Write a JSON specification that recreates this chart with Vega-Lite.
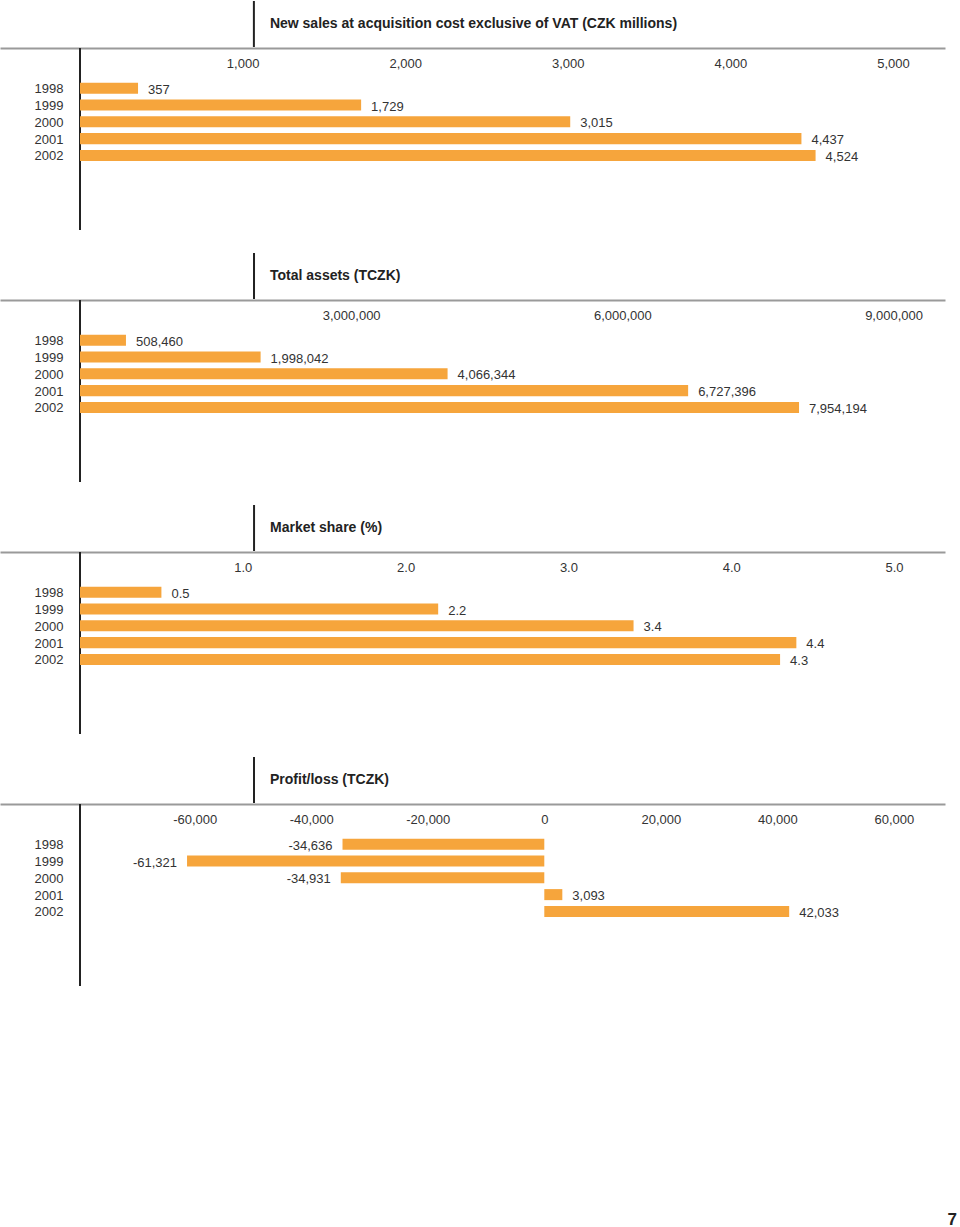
{
  "$schema": "https://vega.github.io/schema/vega-lite/v6.json",
  "padding": {"left": 0, "top": 0, "right": 0, "bottom": 0},
  "background": "white",
  "title": {"text": "7", "orient": "bottom", "anchor": "end", "fontSize": 17, "fontWeight": "bold", "color": "#222", "offset": 225, "dx": 12, "font": "Liberation Sans"},
  "datasets": {
    "sales": [{"year": 1998, "value": 357}, {"year": 1999, "value": 1729}, {"year": 2000, "value": 3015}, {"year": 2001, "value": 4437}, {"year": 2002, "value": 4524}],
    "assets": [{"year": 1998, "value": 508460}, {"year": 1999, "value": 1998042}, {"year": 2000, "value": 4066344}, {"year": 2001, "value": 6727396}, {"year": 2002, "value": 7954194}],
    "share": [{"year": 1998, "value": 0.5}, {"year": 1999, "value": 2.2}, {"year": 2000, "value": 3.4}, {"year": 2001, "value": 4.4}, {"year": 2002, "value": 4.3}],
    "profit": [{"year": 1998, "value": -34636}, {"year": 1999, "value": -61321}, {"year": 2000, "value": -34931}, {"year": 2001, "value": 3093}, {"year": 2002, "value": 42033}]
  },
  "vconcat": [
    {
      "spacing": -1,
      "resolve": {"scale": {"x": "independent"}, "axis": {"x": "independent"}},
      "vconcat": [
        {
          "width": 945, "height": 46,
          "data": {"values": [{"title": "New sales at acquisition cost exclusive of VAT (CZK millions)", "line": 1069.5, "pos": 1168}]},
          "layer": [
            {"mark": {"type": "rule", "color": "#222", "strokeWidth": 2}, "encoding": {"x": {"field": "line", "type": "quantitative", "scale": {"domain": [-492, 5320], "nice": false, "zero": false}, "axis": null}}},
            {"mark": {"type": "text", "align": "left", "baseline": "middle", "fontWeight": "bold", "fontSize": 14, "color": "#222"}, "encoding": {"x": {"field": "pos", "type": "quantitative"}, "text": {"field": "title"}}}
          ]
        },
        {
          "width": 945, "height": 182,
          "data": {"name": "sales"},
          "layer": [
            {"data": {"values": [{"base": 0}]}, "mark": {"type": "rule", "color": "#222", "strokeWidth": 2}, "encoding": {"x": {"field": "base", "type": "quantitative"}}},
            {"mark": {"type": "bar", "color": "#F6A53C"}, "encoding": {
              "y": {"field": "year", "type": "ordinal", "scale": {"paddingInner": 0.343, "paddingOuter": 0, "range": [34.7, 112.94]}, "axis": {"orient": "left", "offset": -80, "title": null, "ticks": false, "tickSize": 0, "domain": false, "labelPadding": 17, "labelOffset": 1, "labelFontSize": 13, "labelColor": "#333"}},
              "x": {"field": "value", "type": "quantitative", "scale": {"domain": [-492, 5320], "nice": false, "zero": false}, "axis": {"orient": "top", "values": [1000, 2000, 3000, 4000, 5000], "format": ",d", "title": null, "ticks": false, "tickSize": 0, "grid": false, "domainColor": "#9a9a9a", "domainWidth": 2, "labelPadding": -15, "labelBaseline": "middle", "labelFontSize": 13, "labelColor": "#333"}}, "x2": {"datum": 0}}},
            {"mark": {"type": "text", "align": "left", "baseline": "middle", "dx": 10, "dy": 1.5, "fontSize": 13, "color": "#333"}, "encoding": {"y": {"field": "year", "type": "ordinal"}, "x": {"field": "value", "type": "quantitative"}, "text": {"field": "value", "format": ","}}}
          ]
        }
      ]
    },
    {
      "spacing": -1,
      "resolve": {"scale": {"x": "independent"}, "axis": {"x": "independent"}},
      "vconcat": [
        {
          "width": 945, "height": 46,
          "data": {"values": [{"title": "Total assets (TCZK)", "line": 1925000, "pos": 2102000}]},
          "layer": [
            {"mark": {"type": "rule", "color": "#222", "strokeWidth": 2}, "encoding": {"x": {"field": "line", "type": "quantitative", "scale": {"domain": [-885000, 9569000], "nice": false, "zero": false}, "axis": null}}},
            {"mark": {"type": "text", "align": "left", "baseline": "middle", "fontWeight": "bold", "fontSize": 14, "color": "#222"}, "encoding": {"x": {"field": "pos", "type": "quantitative"}, "text": {"field": "title"}}}
          ]
        },
        {
          "width": 945, "height": 182,
          "data": {"name": "assets"},
          "layer": [
            {"data": {"values": [{"base": 0}]}, "mark": {"type": "rule", "color": "#222", "strokeWidth": 2}, "encoding": {"x": {"field": "base", "type": "quantitative"}}},
            {"mark": {"type": "bar", "color": "#F6A53C"}, "encoding": {
              "y": {"field": "year", "type": "ordinal", "scale": {"paddingInner": 0.343, "paddingOuter": 0, "range": [34.7, 112.94]}, "axis": {"orient": "left", "offset": -80, "title": null, "ticks": false, "tickSize": 0, "domain": false, "labelPadding": 17, "labelOffset": 1, "labelFontSize": 13, "labelColor": "#333"}},
              "x": {"field": "value", "type": "quantitative", "scale": {"domain": [-885000, 9569000], "nice": false, "zero": false}, "axis": {"orient": "top", "values": [3000000, 6000000, 9000000], "format": ",d", "title": null, "ticks": false, "tickSize": 0, "grid": false, "domainColor": "#9a9a9a", "domainWidth": 2, "labelPadding": -15, "labelBaseline": "middle", "labelFontSize": 13, "labelColor": "#333"}}, "x2": {"datum": 0}}},
            {"mark": {"type": "text", "align": "left", "baseline": "middle", "dx": 10, "dy": 1.5, "fontSize": 13, "color": "#333"}, "encoding": {"y": {"field": "year", "type": "ordinal"}, "x": {"field": "value", "type": "quantitative"}, "text": {"field": "value", "format": ","}}}
          ]
        }
      ]
    },
    {
      "spacing": -1,
      "resolve": {"scale": {"x": "independent"}, "axis": {"x": "independent"}},
      "vconcat": [
        {
          "width": 945, "height": 46,
          "data": {"values": [{"title": "Market share (%)", "line": 1.069, "pos": 1.167}]},
          "layer": [
            {"mark": {"type": "rule", "color": "#222", "strokeWidth": 2}, "encoding": {"x": {"field": "line", "type": "quantitative", "scale": {"domain": [-0.4914, 5.313], "nice": false, "zero": false}, "axis": null}}},
            {"mark": {"type": "text", "align": "left", "baseline": "middle", "fontWeight": "bold", "fontSize": 14, "color": "#222"}, "encoding": {"x": {"field": "pos", "type": "quantitative"}, "text": {"field": "title"}}}
          ]
        },
        {
          "width": 945, "height": 182,
          "data": {"name": "share"},
          "layer": [
            {"data": {"values": [{"base": 0}]}, "mark": {"type": "rule", "color": "#222", "strokeWidth": 2}, "encoding": {"x": {"field": "base", "type": "quantitative"}}},
            {"mark": {"type": "bar", "color": "#F6A53C"}, "encoding": {
              "y": {"field": "year", "type": "ordinal", "scale": {"paddingInner": 0.343, "paddingOuter": 0, "range": [34.7, 112.94]}, "axis": {"orient": "left", "offset": -80, "title": null, "ticks": false, "tickSize": 0, "domain": false, "labelPadding": 17, "labelOffset": 1, "labelFontSize": 13, "labelColor": "#333"}},
              "x": {"field": "value", "type": "quantitative", "scale": {"domain": [-0.4914, 5.313], "nice": false, "zero": false}, "axis": {"orient": "top", "values": [1, 2, 3, 4, 5], "format": ".1f", "title": null, "ticks": false, "tickSize": 0, "grid": false, "domainColor": "#9a9a9a", "domainWidth": 2, "labelPadding": -15, "labelBaseline": "middle", "labelFontSize": 13, "labelColor": "#333"}}, "x2": {"datum": 0}}},
            {"mark": {"type": "text", "align": "left", "baseline": "middle", "dx": 10, "dy": 1.5, "fontSize": 13, "color": "#333"}, "encoding": {"y": {"field": "year", "type": "ordinal"}, "x": {"field": "value", "type": "quantitative"}, "text": {"field": "value", "format": ".1f"}}}
          ]
        }
      ]
    },
    {
      "spacing": -1,
      "resolve": {"scale": {"x": "independent"}, "axis": {"x": "independent"}},
      "vconcat": [
        {
          "width": 945, "height": 46,
          "data": {"values": [{"title": "Profit/loss (TCZK)", "line": -49828, "pos": -47082}]},
          "layer": [
            {"mark": {"type": "rule", "color": "#222", "strokeWidth": 2}, "encoding": {"x": {"field": "line", "type": "quantitative", "scale": {"domain": [-93426, 68778], "nice": false, "zero": false}, "axis": null}}},
            {"mark": {"type": "text", "align": "left", "baseline": "middle", "fontWeight": "bold", "fontSize": 14, "color": "#222"}, "encoding": {"x": {"field": "pos", "type": "quantitative"}, "text": {"field": "title"}}}
          ]
        },
        {
          "width": 945, "height": 182,
          "data": {"name": "profit"},
          "layer": [
            {"data": {"values": [{"base": -79695}]}, "mark": {"type": "rule", "color": "#222", "strokeWidth": 2}, "encoding": {"x": {"field": "base", "type": "quantitative"}}},
            {"mark": {"type": "bar", "color": "#F6A53C"}, "encoding": {
              "y": {"field": "year", "type": "ordinal", "scale": {"paddingInner": 0.343, "paddingOuter": 0, "range": [34.7, 112.94]}, "axis": {"orient": "left", "offset": -80, "title": null, "ticks": false, "tickSize": 0, "domain": false, "labelPadding": 17, "labelOffset": 1, "labelFontSize": 13, "labelColor": "#333"}},
              "x": {"field": "value", "type": "quantitative", "scale": {"domain": [-93426, 68778], "nice": false, "zero": false}, "axis": {"orient": "top", "values": [-60000, -40000, -20000, 0, 20000, 40000, 60000], "format": ",d", "title": null, "ticks": false, "tickSize": 0, "grid": false, "domainColor": "#9a9a9a", "domainWidth": 2, "labelPadding": -15, "labelBaseline": "middle", "labelFontSize": 13, "labelColor": "#333"}}, "x2": {"datum": 0}}},
            {"transform": [{"filter": "datum.value >= 0"}], "mark": {"type": "text", "align": "left", "baseline": "middle", "dx": 10, "dy": 1.5, "fontSize": 13, "color": "#333"}, "encoding": {"y": {"field": "year", "type": "ordinal"}, "x": {"field": "value", "type": "quantitative"}, "text": {"field": "value", "format": ","}}},
            {"transform": [{"filter": "datum.value < 0"}], "mark": {"type": "text", "align": "right", "baseline": "middle", "dx": -10, "dy": 1.5, "fontSize": 13, "color": "#333"}, "encoding": {"y": {"field": "year", "type": "ordinal"}, "x": {"field": "value", "type": "quantitative"}, "text": {"field": "value", "format": ","}}}
          ]
        }
      ]
    }
  ],
  "spacing": 21,
  "resolve": {"scale": {"x": "independent", "y": "independent"}},
  "config": {
    "view": {"stroke": null},
    "font": "Liberation Sans",
    "locale": {"number": {"decimal": ".", "thousands": ",", "grouping": [3], "currency": ["$", ""], "minus": "-"}}
  }
}
